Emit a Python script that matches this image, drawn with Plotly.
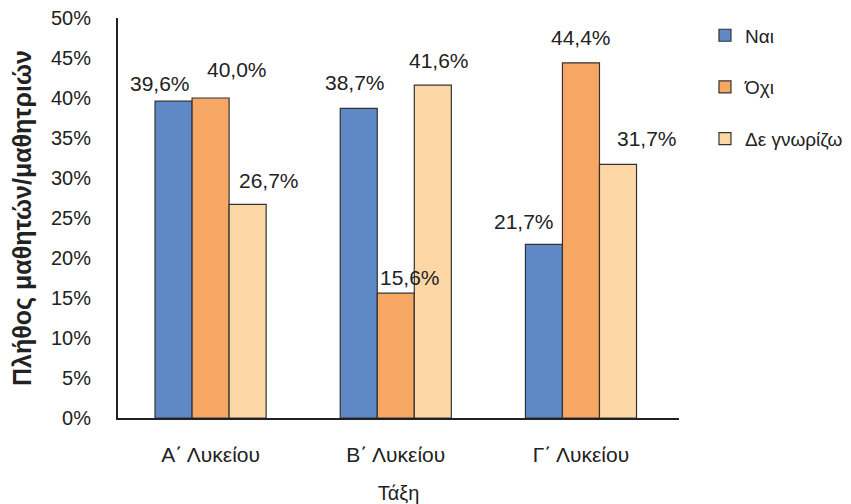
import plotly.graph_objects as go

categories = ["Α΄ Λυκείου", "Β΄ Λυκείου", "Γ΄ Λυκείου"]
series_names = ["Ναι", "Όχι", "Δε γνωρίζω"]
nai = [39.6, 38.7, 21.7]
ochi = [40.0, 15.6, 44.4]
de_gnorizo = [26.7, 41.6, 31.7]
y_ticks = [0, 5, 10, 15, 20, 25, 30, 35, 40, 45, 50]
y_tick_text = [f"{t}%" for t in y_ticks]

COLORS = ["#5F88C6", "#F7A764", "#FDD8A6"]
FONT = "Liberation Sans, Arial, sans-serif"
# label nudges (px) to mimic the hand-placed labels of the original
LABEL_DX = [[-14, -4, -20], [26, 14, 0], [21, 6, 29]]
LABEL_DY = [[18, 26, 23], [29, 16, 25], [24, 25, 26]]

fig = go.Figure()
all_series = [nai, ochi, de_gnorizo]
for k, (name, vals) in enumerate(zip(series_names, all_series)):
    fig.add_trace(go.Bar(
        x=categories, y=vals, name=name,
        marker=dict(color=COLORS[k], line=dict(color="#333333", width=1.2)),
        legendgroup=name,
        hoverinfo="skip",
    ))

for k, vals in enumerate(all_series):
    for i, v in enumerate(vals):
        fig.add_annotation(
            x=i + (k - 1) * 0.2, y=v, xref="x", yref="y",
            text=f"{v:.1f}".replace(".", ",") + "%",
            showarrow=False, yanchor="middle",
            xshift=LABEL_DX[k][i], yshift=LABEL_DY[k][i],
            font=dict(family=FONT, size=21, color="#222222"),
        )

# page body adds an 8px margin, so keep the figure inside the window
fig.update_layout(
    width=835, height=496,
    paper_bgcolor="white", plot_bgcolor="white",
    font=dict(family=FONT, size=20, color="#222222"),
    margin=dict(l=110, r=164, t=10, b=86, autoexpand=False),
    barmode="group", bargap=0.4, bargroupgap=0,
    showlegend=True,
    legend=dict(
        xref="container", x=0.8347, y=1.004, xanchor="left", yanchor="top",
        traceorder="grouped", tracegroupgap=24,
        font=dict(family=FONT, size=19, color="#222222"),
        itemwidth=30,
    ),
    xaxis=dict(
        showline=True, linecolor="#222222", linewidth=2,
        showgrid=False, ticks="", ticklabelstandoff=17,
        tickfont=dict(size=21),
        title=dict(text="Τάξη", font=dict(family=FONT, size=20), standoff=21),
    ),
    yaxis=dict(
        range=[0, 50], tickvals=y_ticks, ticktext=y_tick_text,
        showline=True, linecolor="#222222", linewidth=2,
        showgrid=False, ticks="", ticklabelstandoff=21, zeroline=False,
        ticklabeloverflow="allow",
        title=dict(text="<b>Πλήθος μαθητών/μαθητριών</b>",
                   font=dict(family=FONT, size=25), standoff=14),
    ),
)

fig.write_html("out.html")
